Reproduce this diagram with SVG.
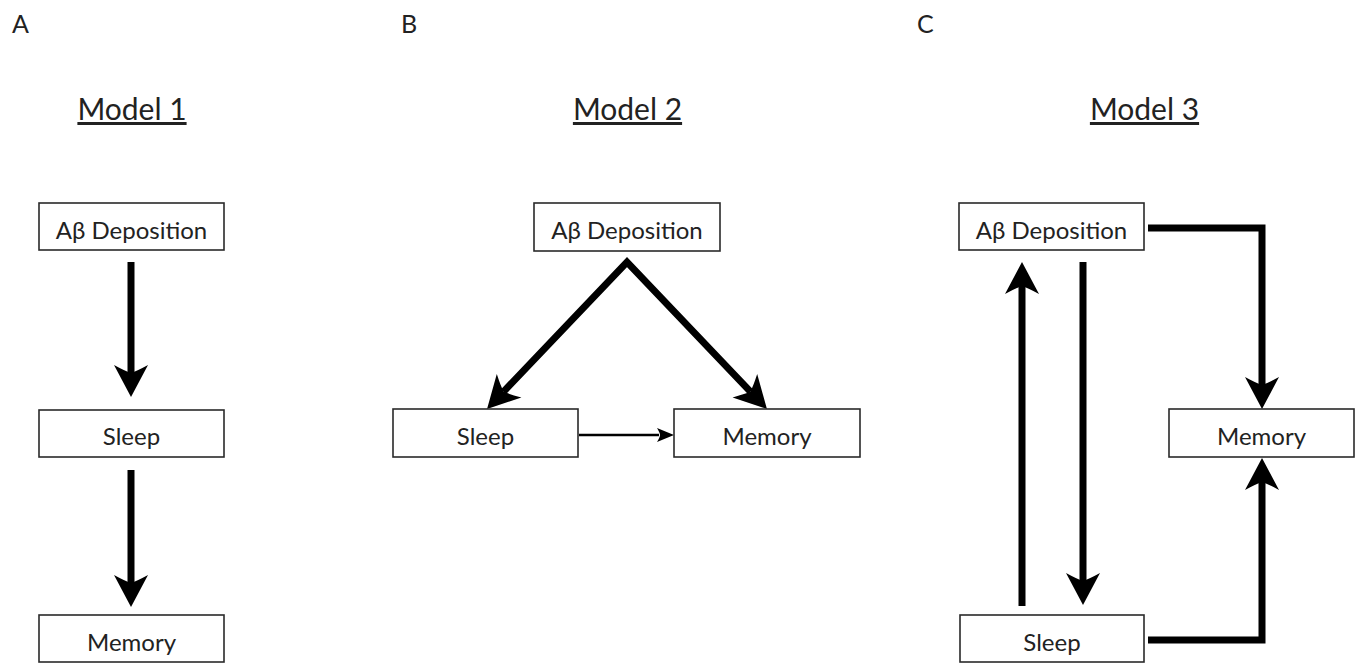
<svg xmlns="http://www.w3.org/2000/svg" width="1360" height="664" viewBox="0 0 1360 664">
<style>
text{font-family:Lato,"Liberation Sans",sans-serif;fill:#222}
.panel{font-size:25px}
.title{font-size:30px;text-anchor:middle;text-decoration:underline}
.box{fill:#fff;stroke:#2a2a2a;stroke-width:1.6}
.lbl{font-size:24px;text-anchor:middle}
.thick{fill:none;stroke:#000;stroke-width:7;stroke-linejoin:miter;stroke-miterlimit:10}
.thin{fill:none;stroke:#000;stroke-width:2.5}
</style>
<defs>
<marker id="head" markerUnits="userSpaceOnUse" overflow="visible" orient="auto-start-reverse" refX="0" refY="0" markerWidth="1" markerHeight="1">
<path d="M24,0 L-8,-17 Q-2,-6 0,0 Q-2,6 -8,17 Z" fill="#000"/>
</marker>
<marker id="small" markerUnits="userSpaceOnUse" overflow="visible" orient="auto" refX="0" refY="0" markerWidth="1" markerHeight="1">
<path d="M15,0 L-2,-7 Q1,-2 1,0 Q1,2 -2,7 Z" fill="#000"/>
</marker>
</defs>
<rect width="1360" height="664" fill="#fff"/>
<g id="panel-labels">
<text class="panel" x="12" y="33">A</text>
<text class="panel" x="401" y="33">B</text>
<text class="panel" x="917" y="33">C</text>
</g>
<g id="titles">
<text class="title" x="132" y="120">Model 1</text>
<text class="title" x="627.5" y="120">Model 2</text>
<text class="title" x="1144.5" y="120">Model 3</text>
</g>
<g id="connectors">
<path class="thick" d="M131,262 V373" marker-end="url(#head)"/>
<path class="thick" d="M131,470 V583" marker-end="url(#head)"/>
<path class="thick" d="M503.6,391.6 L627,262 L750.4,391.6" marker-start="url(#head)" marker-end="url(#head)"/>
<path class="thin" d="M579,435 H659" marker-end="url(#small)"/>
<path class="thick" d="M1022,606 V286" marker-end="url(#head)"/>
<path class="thick" d="M1083,262 V581" marker-end="url(#head)"/>
<path class="thick" d="M1148,228 H1262 V385" marker-end="url(#head)"/>
<path class="thick" d="M1148,640 H1262 V482" marker-end="url(#head)"/>
</g>
<g id="m1-abeta"><rect class="box" x="39" y="203" width="185" height="47"/><text class="lbl" x="131.5" y="239">Aβ Deposition</text></g>
<g id="m1-sleep"><rect class="box" x="39" y="410" width="185" height="47"/><text class="lbl" x="131.5" y="445">Sleep</text></g>
<g id="m1-memory"><rect class="box" x="39" y="615" width="185" height="47"/><text class="lbl" x="131.5" y="651">Memory</text></g>
<g id="m2-abeta"><rect class="box" x="534" y="203" width="186" height="48"/><text class="lbl" x="627" y="239">Aβ Deposition</text></g>
<g id="m2-sleep"><rect class="box" x="393" y="409" width="185" height="48"/><text class="lbl" x="485.5" y="445">Sleep</text></g>
<g id="m2-memory"><rect class="box" x="674" y="409" width="186" height="48"/><text class="lbl" x="767" y="445">Memory</text></g>
<g id="m3-abeta"><rect class="box" x="959" y="203" width="185" height="47"/><text class="lbl" x="1051.5" y="239">Aβ Deposition</text></g>
<g id="m3-memory"><rect class="box" x="1169" y="409" width="185" height="48"/><text class="lbl" x="1261.5" y="445">Memory</text></g>
<g id="m3-sleep"><rect class="box" x="960" y="615" width="184" height="47"/><text class="lbl" x="1052" y="651">Sleep</text></g>
</svg>
